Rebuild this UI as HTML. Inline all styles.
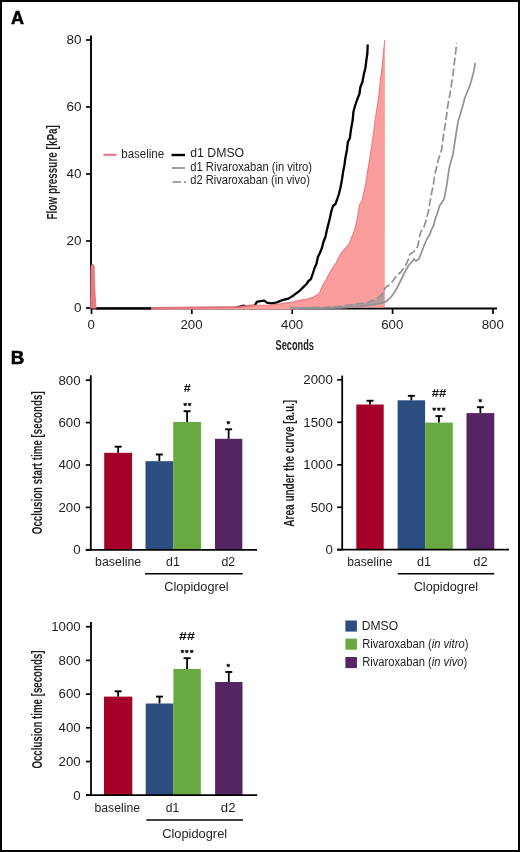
<!DOCTYPE html>
<html><head><meta charset="utf-8"><style>
html,body{margin:0;padding:0;background:#fff;}
body{width:520px;height:852px;overflow:hidden;}
svg{display:block;will-change:transform;font-family:"Liberation Sans", sans-serif;}
</style></head><body>
<svg width="520" height="852" viewBox="0 0 520 852">
<rect x="0" y="0" width="520" height="852" fill="#fff"/>
<text x="11" y="23.6" font-size="18.6" font-weight="bold" fill="#000" textLength="13.04" lengthAdjust="spacingAndGlyphs" stroke="#000" stroke-width="0.55">A</text>
<line x1="86" y1="40" x2="91" y2="40" stroke="#000" stroke-width="1.7"/>
<text x="66.4" y="44.3" font-size="12.4" fill="#1e1e1e" textLength="15.03" lengthAdjust="spacingAndGlyphs">80</text>
<line x1="86" y1="107" x2="91" y2="107" stroke="#000" stroke-width="1.7"/>
<text x="66.4" y="111.3" font-size="12.4" fill="#1e1e1e" textLength="15.03" lengthAdjust="spacingAndGlyphs">60</text>
<line x1="86" y1="174" x2="91" y2="174" stroke="#000" stroke-width="1.7"/>
<text x="66.4" y="178.3" font-size="12.4" fill="#1e1e1e" textLength="15.03" lengthAdjust="spacingAndGlyphs">40</text>
<line x1="86" y1="241" x2="91" y2="241" stroke="#000" stroke-width="1.7"/>
<text x="66.4" y="245.3" font-size="12.4" fill="#1e1e1e" textLength="15.03" lengthAdjust="spacingAndGlyphs">20</text>
<line x1="86" y1="308" x2="91" y2="308" stroke="#000" stroke-width="1.7"/>
<text x="73.91" y="312.3" font-size="12.4" fill="#1e1e1e" textLength="7.52" lengthAdjust="spacingAndGlyphs">0</text>
<line x1="91.5" y1="308" x2="91.5" y2="314" stroke="#000" stroke-width="1.7"/>
<text x="87.6" y="329" font-size="12.4" fill="#1e1e1e" textLength="7.38" lengthAdjust="spacingAndGlyphs">0</text>
<line x1="191.8" y1="308" x2="191.8" y2="314" stroke="#000" stroke-width="1.7"/>
<text x="180.45" y="329" font-size="12.4" fill="#1e1e1e" textLength="22.14" lengthAdjust="spacingAndGlyphs">200</text>
<line x1="292.2" y1="308" x2="292.2" y2="314" stroke="#000" stroke-width="1.7"/>
<text x="281.04" y="329" font-size="12.4" fill="#1e1e1e" textLength="22.14" lengthAdjust="spacingAndGlyphs">400</text>
<line x1="392.6" y1="308" x2="392.6" y2="314" stroke="#000" stroke-width="1.7"/>
<text x="381.25" y="329" font-size="12.4" fill="#1e1e1e" textLength="22.14" lengthAdjust="spacingAndGlyphs">600</text>
<line x1="493" y1="308" x2="493" y2="314" stroke="#000" stroke-width="1.7"/>
<text x="481.7" y="329" font-size="12.4" fill="#1e1e1e" textLength="22.14" lengthAdjust="spacingAndGlyphs">800</text>
<text transform="translate(57.31,219.47) rotate(-90)" x="0" y="0" font-size="13.94" fill="#1e1e1e" textLength="94.32" lengthAdjust="spacingAndGlyphs" font-weight="bold">Flow pressure [kPa]</text>
<text x="275.62" y="350.1" font-size="14.1" font-weight="bold" fill="#1e1e1e" textLength="38.35" lengthAdjust="spacingAndGlyphs">Seconds</text>
<line x1="91" y1="308.5" x2="497" y2="308.5" stroke="#000" stroke-width="1.8"/>
<path d="M236.0,307.4 L240.0,306.6 L244.0,305.7 L248.0,307.3 L252.1,308.0 L254.8,305.3 L256.8,301.9 L260.2,301.2 L264.2,300.6 L266.9,302.6 L271.0,303.3 L276.3,302.6 L283.1,299.9 L288.5,298.6 L293.8,295.2 L299.2,291.2 L303.3,287.1 L306.5,284.0 L308.5,281.0 L311.0,279.0 L313.0,273.0 L314.5,268.0 L316.4,264.0 L317.9,257.0 L319.9,253.0 L321.9,248.0 L323.4,242.0 L325.4,237.0 L326.9,230.0 L328.4,224.0 L329.9,218.0 L331.4,211.0 L333.0,206.0 L335.4,204.0 L336.9,200.0 L338.9,194.0 L340.4,188.0 L341.9,180.0 L342.9,173.0 L344.4,165.0 L345.4,158.0 L346.9,150.0 L347.9,142.0 L349.9,138.0 L350.9,130.0 L352.7,120.0 L353.4,112.0 L355.0,106.0 L357.0,100.0 L359.4,94.0 L360.4,87.0 L362.4,82.0 L363.9,74.0 L365.4,68.0 L366.4,60.0 L367.4,53.0 L367.7,44.5" fill="none" stroke="#000" stroke-width="2.3" stroke-linejoin="round"/>
<path d="M95.8,308.3 L151.5,308.3" fill="none" stroke="#000" stroke-width="2.2" stroke-linejoin="round"/>
<path d="M151.0,308.0 L200.0,307.6 L240.0,307.0 L253.5,305.3 L267.0,305.3 L280.4,303.9 L293.8,301.9 L301.9,299.9 L305.8,299.6 L311.5,297.9 L317.3,295.0 L320.2,291.5 L322.9,285.0 L326.0,280.0 L329.0,274.0 L333.0,267.0 L336.0,263.0 L339.0,257.0 L342.0,252.0 L345.5,248.0 L349.0,244.0 L351.4,238.0 L353.9,232.0 L355.9,225.0 L357.9,215.0 L359.4,205.0 L361.9,201.0 L363.0,196.0 L365.5,185.0 L367.5,172.0 L370.0,157.0 L371.9,145.0 L373.9,130.0 L375.4,118.0 L376.9,109.0 L378.9,95.0 L380.4,80.0 L382.4,65.0 L383.9,48.0 L384.9,40.0 L384.8,307.6 L300.0,307.6 L299.0,309.4 L151.0,309.4 Z" fill="#fc9d9d"/>
<path d="M151.0,308.0 L200.0,307.6 L240.0,307.0 L253.5,305.3" fill="none" stroke="#e0707c" stroke-width="2.0" stroke-linejoin="round"/>
<path d="M253.5,305.3 L267.0,305.3 L280.4,303.9 L293.8,301.9 L301.9,299.9 L305.8,299.6 L311.5,297.9 L317.3,295.0 L320.2,291.5 L322.9,285.0 L326.0,280.0 L329.0,274.0 L333.0,267.0 L336.0,263.0 L339.0,257.0 L342.0,252.0 L345.5,248.0 L349.0,244.0 L351.4,238.0 L353.9,232.0 L355.9,225.0 L357.9,215.0 L359.4,205.0 L361.9,201.0 L363.0,196.0 L365.5,185.0 L367.5,172.0 L370.0,157.0 L371.9,145.0 L373.9,130.0 L375.4,118.0 L376.9,109.0 L378.9,95.0 L380.4,80.0 L382.4,65.0 L383.9,48.0 L384.9,40.0" fill="none" stroke="#e77a82" stroke-width="1.1" stroke-linejoin="round"/>
<path d="M330.0,306.5 L350.0,304.8 L367.7,302.5 L375.4,299.4 L380.8,295.5 L384.3,290.0 L384.3,303.2 L367.7,305.5 L350.0,307.0 L330.0,307.6 Z" fill="#a09a9e" fill-opacity="0.75"/>
<path d="M290.0,308.3 L300.0,308.3 L340.0,308.0 L355.0,307.0 L366.7,305.5 L375.0,304.3 L380.0,303.5 L384.5,302.5 L388.0,300.0 L391.0,297.0 L394.0,293.0 L397.0,288.0 L400.0,282.0 L403.0,276.0 L405.9,270.0 L408.9,265.0 L411.9,262.0 L413.9,259.0 L415.9,261.0 L418.9,259.0 L420.9,254.0 L423.9,246.0 L426.9,239.0 L429.5,235.0 L431.2,230.4 L433.4,225.9 L435.6,218.1 L437.9,211.4 L439.6,205.8 L441.8,202.5 L444.0,199.2 L445.7,191.3 L446.8,184.6 L447.9,176.8 L449.0,169.0 L450.7,162.3 L452.9,154.5 L454.1,146.7 L455.2,140.0 L455.7,135.8 L457.0,128.0 L458.3,120.3 L460.2,115.1 L461.5,109.9 L463.4,103.5 L464.7,98.3 L467.3,91.8 L469.9,85.4 L471.8,78.9 L473.8,71.2 L475.3,62.8" fill="none" stroke="#929292" stroke-width="1.7" stroke-linejoin="round"/>
<path d="M290.0,308.2 L300.0,308.2 L335.0,306.8 L350.0,305.0 L360.0,303.5 L367.7,302.5 L375.4,299.4 L380.8,295.5 L383.7,290.6 L386.0,287.0 L389.0,285.0 L392.0,282.0 L395.0,278.0 L397.0,275.0 L401.0,272.0 L404.0,268.0 L406.9,263.0 L408.9,258.0 L409.9,254.0 L412.9,252.4 L415.4,250.0 L417.4,247.0 L418.9,241.0 L419.9,235.0 L421.1,231.5 L423.9,227.0 L426.2,220.4 L428.4,211.4 L430.1,201.4 L431.7,192.5 L433.4,184.6 L434.5,175.7 L436.2,169.0 L437.9,161.2 L440.1,154.5 L441.8,148.9 L443.4,135.8 L445.1,125.4 L446.6,115.1 L447.9,104.8 L449.9,94.4 L451.5,84.1 L453.1,73.8 L454.4,62.1 L455.7,51.8 L456.7,42.8" fill="none" stroke="#929292" stroke-width="1.7" stroke-linejoin="round" stroke-dasharray="8 3"/>
<line x1="91" y1="35.4" x2="91" y2="309.3" stroke="#000" stroke-width="1.9"/>
<path d="M90.2,308.5 L90.6,267 L91.5,264.3 L93.3,263.8 L94.6,266 L95.3,290 L96.6,308.5 Z" fill="#e77a82"/>
<line x1="103.4" y1="154.8" x2="116.5" y2="154.8" stroke="#e77a82" stroke-width="2.1"/>
<text x="121.25" y="157.5" font-size="12" fill="#1e1e1e" textLength="42.84" lengthAdjust="spacingAndGlyphs">baseline</text>
<line x1="171.5" y1="155" x2="185" y2="155" stroke="#000" stroke-width="2.4"/>
<text x="190.28" y="157.4" font-size="12" fill="#1e1e1e" textLength="53.91" lengthAdjust="spacingAndGlyphs">d1 DMSO</text>
<line x1="171.6" y1="168" x2="184.9" y2="168" stroke="#929292" stroke-width="1.7"/>
<text x="190.32" y="170.7" font-size="12" fill="#1e1e1e" textLength="121.76" lengthAdjust="spacingAndGlyphs">d1 Rivaroxaban (in vitro)</text>
<line x1="172.5" y1="182" x2="180.9" y2="182" stroke="#929292" stroke-width="1.7"/>
<line x1="184" y1="182" x2="186.1" y2="182" stroke="#929292" stroke-width="1.7"/>
<text x="190.33" y="184.3" font-size="12" fill="#1e1e1e" textLength="119.54" lengthAdjust="spacingAndGlyphs">d2 Rivaroxaban (in vivo)</text>
<text x="10.89" y="364" font-size="18.1" font-weight="bold" fill="#000" textLength="13.5" lengthAdjust="spacingAndGlyphs" stroke="#000" stroke-width="0.55">B</text>
<line x1="85.8" y1="380.2" x2="90.8" y2="380.2" stroke="#000" stroke-width="1.7"/>
<text x="58.47" y="384.55" font-size="12.4" fill="#1e1e1e" textLength="22.14" lengthAdjust="spacingAndGlyphs">800</text>
<line x1="85.8" y1="422.6" x2="90.8" y2="422.6" stroke="#000" stroke-width="1.7"/>
<text x="58.47" y="426.95" font-size="12.4" fill="#1e1e1e" textLength="22.14" lengthAdjust="spacingAndGlyphs">600</text>
<line x1="85.8" y1="465" x2="90.8" y2="465" stroke="#000" stroke-width="1.7"/>
<text x="58.47" y="469.35" font-size="12.4" fill="#1e1e1e" textLength="22.14" lengthAdjust="spacingAndGlyphs">400</text>
<line x1="85.8" y1="507.4" x2="90.8" y2="507.4" stroke="#000" stroke-width="1.7"/>
<text x="58.47" y="511.75" font-size="12.4" fill="#1e1e1e" textLength="22.14" lengthAdjust="spacingAndGlyphs">200</text>
<line x1="85.8" y1="549.8" x2="90.8" y2="549.8" stroke="#000" stroke-width="1.7"/>
<text x="73.23" y="554.15" font-size="12.4" fill="#1e1e1e" textLength="7.38" lengthAdjust="spacingAndGlyphs">0</text>
<rect x="104.2" y="452.8" width="27.9" height="97" fill="#a4002a"/>
<rect x="145.5" y="461.2" width="27.7" height="88.6" fill="#2c4d80"/>
<rect x="173.2" y="422" width="27.8" height="127.8" fill="#68aa41"/>
<rect x="215" y="438.8" width="27.3" height="111" fill="#552463"/>
<line x1="118.15" y1="452.8" x2="118.15" y2="446.7" stroke="#000" stroke-width="1.8"/>
<line x1="114.65" y1="446.7" x2="121.65" y2="446.7" stroke="#000" stroke-width="1.9"/>
<line x1="159.35" y1="461.2" x2="159.35" y2="454.5" stroke="#000" stroke-width="1.8"/>
<line x1="155.85" y1="454.5" x2="162.85" y2="454.5" stroke="#000" stroke-width="1.9"/>
<line x1="187.1" y1="422" x2="187.1" y2="411.2" stroke="#000" stroke-width="1.8"/>
<line x1="183.6" y1="411.2" x2="190.6" y2="411.2" stroke="#000" stroke-width="1.9"/>
<line x1="228.65" y1="438.8" x2="228.65" y2="429.3" stroke="#000" stroke-width="1.8"/>
<line x1="225.15" y1="429.3" x2="232.15" y2="429.3" stroke="#000" stroke-width="1.9"/>
<line x1="90.8" y1="375.2" x2="90.8" y2="550.3" stroke="#000" stroke-width="1.8"/>
<line x1="85.8" y1="549.8" x2="257" y2="549.8" stroke="#000" stroke-width="1.8"/>
<text transform="translate(41.62,534.19) rotate(-90)" x="0" y="0" font-size="14.37" fill="#1e1e1e" textLength="142.93" lengthAdjust="spacingAndGlyphs" font-weight="bold">Occlusion start time [seconds]</text>
<text x="95.1" y="565.7" font-size="12" fill="#1e1e1e" textLength="46.03" lengthAdjust="spacingAndGlyphs">baseline</text>
<text x="165.97" y="565.7" font-size="12" fill="#1e1e1e" textLength="13.85" lengthAdjust="spacingAndGlyphs">d1</text>
<text x="221.47" y="565.7" font-size="12" fill="#1e1e1e" textLength="13.77" lengthAdjust="spacingAndGlyphs">d2</text>
<line x1="145" y1="573.8" x2="242.7" y2="573.8" stroke="#000" stroke-width="1.6"/>
<text x="164.37" y="591.2" font-size="12" fill="#1e1e1e" textLength="64.18" lengthAdjust="spacingAndGlyphs">Clopidogrel</text>
<text x="183.78" y="392.3" font-size="11.8" font-weight="bold" fill="#111" textLength="7.03" lengthAdjust="spacingAndGlyphs">#</text>
<path d="M183.6,403.3 L186.8,403.3 L186.2,405.8 L184.2,405.8 Z" fill="#111" stroke="#111" stroke-width="0.4" stroke-linejoin="round"/>
<path d="M188,403.3 L191.2,403.3 L190.6,405.8 L188.6,405.8 Z" fill="#111" stroke="#111" stroke-width="0.4" stroke-linejoin="round"/>
<path d="M226.8,421.5 L230,421.5 L229.4,424 L227.4,424 Z" fill="#111" stroke="#111" stroke-width="0.4" stroke-linejoin="round"/>
<line x1="337.2" y1="379.8" x2="342.2" y2="379.8" stroke="#000" stroke-width="1.7"/>
<text x="303.31" y="384.15" font-size="12.4" fill="#1e1e1e" textLength="29.52" lengthAdjust="spacingAndGlyphs">2000</text>
<line x1="337.2" y1="422.3" x2="342.2" y2="422.3" stroke="#000" stroke-width="1.7"/>
<text x="303.31" y="426.65" font-size="12.4" fill="#1e1e1e" textLength="29.52" lengthAdjust="spacingAndGlyphs">1500</text>
<line x1="337.2" y1="464.8" x2="342.2" y2="464.8" stroke="#000" stroke-width="1.7"/>
<text x="303.31" y="469.15" font-size="12.4" fill="#1e1e1e" textLength="29.52" lengthAdjust="spacingAndGlyphs">1000</text>
<line x1="337.2" y1="507.25" x2="342.2" y2="507.25" stroke="#000" stroke-width="1.7"/>
<text x="310.67" y="511.6" font-size="12.4" fill="#1e1e1e" textLength="22.14" lengthAdjust="spacingAndGlyphs">500</text>
<line x1="337.2" y1="549.7" x2="342.2" y2="549.7" stroke="#000" stroke-width="1.7"/>
<text x="325.43" y="554.05" font-size="12.4" fill="#1e1e1e" textLength="7.38" lengthAdjust="spacingAndGlyphs">0</text>
<rect x="356.3" y="404.5" width="27.4" height="145.2" fill="#a4002a"/>
<rect x="397.6" y="400.3" width="27.5" height="149.4" fill="#2c4d80"/>
<rect x="425.1" y="422.6" width="27.7" height="127.1" fill="#68aa41"/>
<rect x="466.5" y="413.1" width="27.8" height="136.6" fill="#552463"/>
<line x1="370" y1="404.5" x2="370" y2="400.75" stroke="#000" stroke-width="1.8"/>
<line x1="366.5" y1="400.75" x2="373.5" y2="400.75" stroke="#000" stroke-width="1.9"/>
<line x1="411.35" y1="400.3" x2="411.35" y2="395.8" stroke="#000" stroke-width="1.8"/>
<line x1="407.85" y1="395.8" x2="414.85" y2="395.8" stroke="#000" stroke-width="1.9"/>
<line x1="438.95" y1="422.6" x2="438.95" y2="416.1" stroke="#000" stroke-width="1.8"/>
<line x1="435.45" y1="416.1" x2="442.45" y2="416.1" stroke="#000" stroke-width="1.9"/>
<line x1="480.4" y1="413.1" x2="480.4" y2="407.2" stroke="#000" stroke-width="1.8"/>
<line x1="476.9" y1="407.2" x2="483.9" y2="407.2" stroke="#000" stroke-width="1.9"/>
<line x1="342.2" y1="375.6" x2="342.2" y2="550.2" stroke="#000" stroke-width="1.8"/>
<line x1="337.2" y1="549.7" x2="509" y2="549.7" stroke="#000" stroke-width="1.8"/>
<text transform="translate(293.84,526.65) rotate(-90)" x="0" y="0" font-size="14.26" fill="#1e1e1e" textLength="126.8" lengthAdjust="spacingAndGlyphs" font-weight="bold">Area under the curve [a.u.]</text>
<text x="347.31" y="565.5" font-size="12" fill="#1e1e1e" textLength="45.1" lengthAdjust="spacingAndGlyphs">baseline</text>
<text x="416.96" y="565.5" font-size="12" fill="#1e1e1e" textLength="14.07" lengthAdjust="spacingAndGlyphs">d1</text>
<text x="473.25" y="565.5" font-size="12" fill="#1e1e1e" textLength="14.32" lengthAdjust="spacingAndGlyphs">d2</text>
<line x1="397.8" y1="573.8" x2="494.2" y2="573.8" stroke="#000" stroke-width="1.6"/>
<text x="413.66" y="591.2" font-size="12" fill="#1e1e1e" textLength="64.38" lengthAdjust="spacingAndGlyphs">Clopidogrel</text>
<text x="431.67" y="397.3" font-size="11.8" font-weight="bold" fill="#111" textLength="14.66" lengthAdjust="spacingAndGlyphs">##</text>
<path d="M432.6,407.9 L435.8,407.9 L435.2,410.4 L433.2,410.4 Z" fill="#111" stroke="#111" stroke-width="0.4" stroke-linejoin="round"/>
<path d="M437.2,407.9 L440.4,407.9 L439.8,410.4 L437.8,410.4 Z" fill="#111" stroke="#111" stroke-width="0.4" stroke-linejoin="round"/>
<path d="M442,407.9 L445.2,407.9 L444.6,410.4 L442.6,410.4 Z" fill="#111" stroke="#111" stroke-width="0.4" stroke-linejoin="round"/>
<path d="M478.7,399.4 L481.9,399.4 L481.3,401.9 L479.3,401.9 Z" fill="#111" stroke="#111" stroke-width="0.4" stroke-linejoin="round"/>
<line x1="86" y1="626.7" x2="91" y2="626.7" stroke="#000" stroke-width="1.7"/>
<text x="51.21" y="631.05" font-size="12.4" fill="#1e1e1e" textLength="29.52" lengthAdjust="spacingAndGlyphs">1000</text>
<line x1="86" y1="660.4" x2="91" y2="660.4" stroke="#000" stroke-width="1.7"/>
<text x="58.57" y="664.75" font-size="12.4" fill="#1e1e1e" textLength="22.14" lengthAdjust="spacingAndGlyphs">800</text>
<line x1="86" y1="694.1" x2="91" y2="694.1" stroke="#000" stroke-width="1.7"/>
<text x="58.57" y="698.45" font-size="12.4" fill="#1e1e1e" textLength="22.14" lengthAdjust="spacingAndGlyphs">600</text>
<line x1="86" y1="727.8" x2="91" y2="727.8" stroke="#000" stroke-width="1.7"/>
<text x="58.57" y="732.15" font-size="12.4" fill="#1e1e1e" textLength="22.14" lengthAdjust="spacingAndGlyphs">400</text>
<line x1="86" y1="761.5" x2="91" y2="761.5" stroke="#000" stroke-width="1.7"/>
<text x="58.57" y="765.85" font-size="12.4" fill="#1e1e1e" textLength="22.14" lengthAdjust="spacingAndGlyphs">200</text>
<line x1="86" y1="795.2" x2="91" y2="795.2" stroke="#000" stroke-width="1.7"/>
<text x="73.33" y="799.55" font-size="12.4" fill="#1e1e1e" textLength="7.38" lengthAdjust="spacingAndGlyphs">0</text>
<rect x="104" y="696.6" width="28.3" height="98.6" fill="#a4002a"/>
<rect x="145.7" y="703.5" width="27.7" height="91.7" fill="#2c4d80"/>
<rect x="173.4" y="668.9" width="27.4" height="126.3" fill="#68aa41"/>
<rect x="215.1" y="682" width="27.4" height="113.2" fill="#552463"/>
<line x1="118.15" y1="696.6" x2="118.15" y2="691.3" stroke="#000" stroke-width="1.8"/>
<line x1="114.65" y1="691.3" x2="121.65" y2="691.3" stroke="#000" stroke-width="1.9"/>
<line x1="159.55" y1="703.5" x2="159.55" y2="696.6" stroke="#000" stroke-width="1.8"/>
<line x1="156.05" y1="696.6" x2="163.05" y2="696.6" stroke="#000" stroke-width="1.9"/>
<line x1="187.1" y1="668.9" x2="187.1" y2="658.2" stroke="#000" stroke-width="1.8"/>
<line x1="183.6" y1="658.2" x2="190.6" y2="658.2" stroke="#000" stroke-width="1.9"/>
<line x1="228.8" y1="682" x2="228.8" y2="672" stroke="#000" stroke-width="1.8"/>
<line x1="225.3" y1="672" x2="232.3" y2="672" stroke="#000" stroke-width="1.9"/>
<line x1="91" y1="621.9" x2="91" y2="795.7" stroke="#000" stroke-width="1.8"/>
<line x1="86" y1="795.2" x2="257.2" y2="795.2" stroke="#000" stroke-width="1.8"/>
<text transform="translate(41.87,768.59) rotate(-90)" x="0" y="0" font-size="14.58" fill="#1e1e1e" textLength="118.12" lengthAdjust="spacingAndGlyphs" font-weight="bold">Occlusion time [seconds]</text>
<text x="94.5" y="812.2" font-size="12" fill="#1e1e1e" textLength="45.62" lengthAdjust="spacingAndGlyphs">baseline</text>
<text x="165.89" y="812.2" font-size="12" fill="#1e1e1e" textLength="13.41" lengthAdjust="spacingAndGlyphs">d1</text>
<text x="220.84" y="812.2" font-size="12" fill="#1e1e1e" textLength="14.65" lengthAdjust="spacingAndGlyphs">d2</text>
<line x1="146.3" y1="820" x2="243" y2="820" stroke="#000" stroke-width="1.6"/>
<text x="162.16" y="837.6" font-size="12" fill="#1e1e1e" textLength="64.99" lengthAdjust="spacingAndGlyphs">Clopidogrel</text>
<text x="179.05" y="639.7" font-size="11.8" font-weight="bold" fill="#111" textLength="15.79" lengthAdjust="spacingAndGlyphs">##</text>
<path d="M180.8,650.3 L184,650.3 L183.4,652.8 L181.4,652.8 Z" fill="#111" stroke="#111" stroke-width="0.4" stroke-linejoin="round"/>
<path d="M185.2,650.3 L188.4,650.3 L187.8,652.8 L185.8,652.8 Z" fill="#111" stroke="#111" stroke-width="0.4" stroke-linejoin="round"/>
<path d="M190.1,650.3 L193.3,650.3 L192.7,652.8 L190.7,652.8 Z" fill="#111" stroke="#111" stroke-width="0.4" stroke-linejoin="round"/>
<path d="M226.7,664.2 L229.9,664.2 L229.3,666.7 L227.3,666.7 Z" fill="#111" stroke="#111" stroke-width="0.4" stroke-linejoin="round"/>
<rect x="345.4" y="620.5" width="11.5" height="11.1" fill="#2c4d80"/>
<rect x="345.4" y="638.6" width="11.5" height="11.1" fill="#68aa41"/>
<rect x="345.4" y="657" width="11.5" height="11.1" fill="#552463"/>
<text x="361.8" y="629.8" font-size="12" fill="#1e1e1e" textLength="36.27" lengthAdjust="spacingAndGlyphs">DMSO</text>
<text x="362.18" y="647.9" font-size="12" fill="#1e1e1e" textLength="106.2" lengthAdjust="spacingAndGlyphs">Rivaroxaban (<tspan font-style="italic">in vitro</tspan>)</text>
<text x="362.18" y="666.3" font-size="12" fill="#1e1e1e" textLength="105" lengthAdjust="spacingAndGlyphs">Rivaroxaban (<tspan font-style="italic">in vivo</tspan>)</text>
<rect x="1" y="1" width="518" height="850" fill="none" stroke="#000" stroke-width="2"/>
</svg>
</body></html>
